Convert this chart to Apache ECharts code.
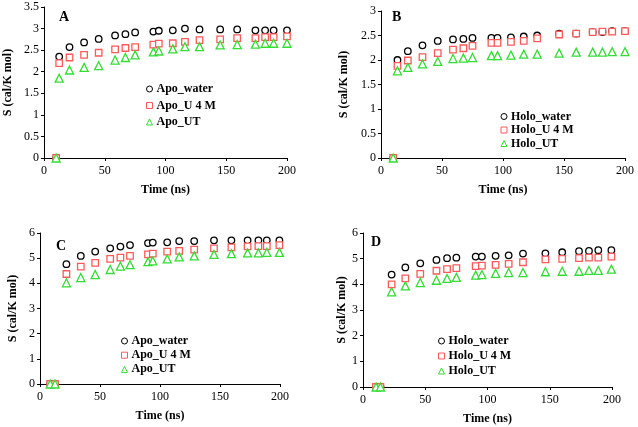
<!DOCTYPE html>
<html><head><meta charset="utf-8">
<script src="https://cdn.jsdelivr.net/npm/echarts@6/dist/echarts.min.js"></script>
<style>html,body{margin:0;padding:0;background:#fff}#c{width:638px;height:427px}</style>
</head><body><div id="c"></div>
<script>
const timesA = [10, 12.5, 21, 33, 45, 58.5, 67, 75, 90, 94.5, 106, 116, 128, 145, 159, 174, 182, 189, 200];
const timesB = [10, 13.5, 22, 34, 46.5, 59, 67.5, 75, 90.5, 95.5, 106.5, 117, 128, 146, 160, 173.5, 181.5, 189.5, 200];
const timesC = [8.5, 12.5, 22, 34, 46, 58.5, 67, 75, 90, 94, 106, 116, 128.5, 145, 159.5, 173, 182, 189, 199.5];
const timesD = [10.5, 14, 23, 34, 46, 59, 67.5, 75, 90.5, 95.5, 106.5, 117, 128.5, 146.5, 160, 173.5, 181.5, 189, 199.5];

const apoWaterA = [0, 2.35, 2.57, 2.68, 2.76, 2.84, 2.87, 2.91, 2.93, 2.95, 2.96, 3.0, 2.98, 2.98, 2.98, 2.96, 2.96, 2.96, 2.96];
const apoU4MA   = [0, 2.2, 2.33, 2.39, 2.44, 2.52, 2.55, 2.57, 2.63, 2.65, 2.66, 2.69, 2.73, 2.75, 2.78, 2.78, 2.8, 2.8, 2.82];
const apoUTA    = [0, 1.85, 2.04, 2.1, 2.14, 2.27, 2.33, 2.39, 2.46, 2.48, 2.53, 2.58, 2.58, 2.62, 2.63, 2.64, 2.66, 2.66, 2.66];

const holoWaterB = [0, 2.0, 2.18, 2.3, 2.39, 2.42, 2.43, 2.45, 2.45, 2.45, 2.46, 2.48, 2.5, 2.54, 2.54, 2.57, 2.57, 2.59, 2.59];
const holoU4MB   = [0, 1.88, 1.99, 2.06, 2.14, 2.21, 2.24, 2.29, 2.35, 2.35, 2.37, 2.39, 2.44, 2.52, 2.54, 2.57, 2.58, 2.58, 2.59];
const holoUTB    = [0, 1.78, 1.85, 1.92, 1.97, 2.03, 2.04, 2.05, 2.09, 2.09, 2.1, 2.12, 2.12, 2.14, 2.16, 2.16, 2.16, 2.17, 2.17];

const apoWaterC = [0, 0, 4.76, 5.09, 5.26, 5.39, 5.46, 5.52, 5.6, 5.62, 5.63, 5.68, 5.68, 5.71, 5.71, 5.71, 5.71, 5.71, 5.71];
const apoU4MC   = [0, 0, 4.37, 4.66, 4.81, 4.97, 5.02, 5.09, 5.15, 5.18, 5.26, 5.29, 5.34, 5.39, 5.43, 5.47, 5.48, 5.48, 5.52];
const apoUTC    = [0, 0, 4.02, 4.23, 4.35, 4.55, 4.68, 4.74, 4.86, 4.89, 4.97, 5.05, 5.09, 5.15, 5.18, 5.21, 5.21, 5.23, 5.23];

const holoWaterD = [0, 0, 4.38, 4.66, 4.82, 4.95, 5.02, 5.04, 5.08, 5.08, 5.11, 5.13, 5.2, 5.21, 5.25, 5.29, 5.3, 5.33, 5.33];
const holoU4MD   = [0, 0, 4.0, 4.23, 4.41, 4.53, 4.59, 4.63, 4.71, 4.73, 4.76, 4.8, 4.86, 4.97, 4.99, 5.02, 5.04, 5.04, 5.08];
const holoUTD    = [0, 0, 3.71, 3.94, 4.07, 4.16, 4.23, 4.27, 4.36, 4.38, 4.43, 4.46, 4.46, 4.49, 4.51, 4.51, 4.54, 4.54, 4.59];

const panelLetters = ['A', 'B', 'C', 'D'];
const namesApo = ['Apo_water', 'Apo_U 4 M', 'Apo_UT'];
const namesHolo = ['Holo_water', 'Holo_U 4 M', 'Holo_UT'];
const yMax = [3.5, 3, 6, 6];
const yStep = [0.5, 0.5, 1, 1];

const FONT = '"Liberation Serif", "Times New Roman", serif';
const colors = ['#000000', '#ff5a5a', '#33dd33'];
const symbols = ['circle', 'rect', 'triangle'];
const sizes = [6.5, 6.5, 8];

const grids = [
  {left: 44, top: 7, width: 243, height: 151},
  {left: 381, top: 11, width: 244, height: 147},
  {left: 40, top: 233, width: 240, height: 151},
  {left: 363, top: 233, width: 249, height: 154}
];
const yNameGap = [30.5, 31, 21, 15];
const legendPos = [
  {left: 146, top: 83, gap: 4.5},
  {left: 500.5, top: 110.5, gap: 1.5},
  {left: 121, top: 335, gap: 2.2},
  {left: 438, top: 335, gap: 3}
];
const letterPos = [[65, 18], [398, 18], [62, 247], [377, 243]];

const panels = [
  {t: timesA, s: [apoWaterA, apoU4MA, apoUTA], n: namesApo},
  {t: timesB, s: [holoWaterB, holoU4MB, holoUTB], n: namesHolo},
  {t: timesC, s: [apoWaterC, apoU4MC, apoUTC], n: namesApo},
  {t: timesD, s: [holoWaterD, holoU4MD, holoUTD], n: namesHolo}
];

const option = {
  backgroundColor: '#fff',
  animation: false,
  grid: grids.map(g => Object.assign({containLabel: false}, g)),
  xAxis: grids.map((g, i) => ({
    gridIndex: i, type: 'value', min: 0, max: 200, interval: 50,
    name: 'Time (ns)', nameLocation: 'middle', nameGap: 26,
    nameTextStyle: {fontFamily: FONT, fontWeight: 'bold', fontSize: 12, color: '#000'},
    axisLine: {show: true, onZero: false, lineStyle: {color: '#000', width: 1}},
    axisTick: {show: true, inside: false, length: 3, lineStyle: {color: '#000'}},
    axisLabel: {fontFamily: FONT, fontSize: 12, color: '#000', margin: 7},
    splitLine: {show: false}
  })),
  yAxis: grids.map((g, i) => ({
    gridIndex: i, type: 'value', min: 0, max: yMax[i], interval: yStep[i],
    name: 'S (cal/K mol)', nameLocation: 'middle', nameGap: yNameGap[i],
    nameTextStyle: {fontFamily: FONT, fontWeight: 'bold', fontSize: 12, color: '#000'},
    axisLine: {show: true, onZero: false, lineStyle: {color: '#000', width: 1}},
    axisTick: {show: true, inside: false, length: 3, lineStyle: {color: '#000'}},
    axisLabel: {fontFamily: FONT, fontSize: 12, color: '#000', margin: 5},
    splitLine: {show: false}
  })),
  legend: panels.map((p, i) => ({
    left: legendPos[i].left, top: legendPos[i].top, orient: 'vertical',
    itemGap: legendPos[i].gap, itemWidth: 6, itemHeight: 6,
    itemStyle: {borderWidth: 1},
    data: p.n.slice(),
    textStyle: {fontFamily: FONT, fontWeight: 'bold', fontSize: 12, color: '#000', padding: [0, 0, 0, -1]},
    padding: 0
  })),
  graphic: letterPos.map((pos, i) => ({
    type: 'text', left: pos[0] - 6, top: pos[1] - 8,
    style: {text: panelLetters[i], font: 'bold 14px ' + FONT, fill: '#000'}
  })),
  series: []
};

panels.forEach((p, i) => {
  p.s.forEach((vals, k) => {
    option.series.push({
      type: 'scatter', name: p.n[k], xAxisIndex: i, yAxisIndex: i,
      symbol: symbols[k], symbolSize: sizes[k],
      itemStyle: {color: '#fff', opacity: 1, borderColor: colors[k], borderWidth: 1.3},
      data: p.t.map((t, j) => [t, vals[j]])
    });
  });
});
const chart = echarts.init(document.getElementById('c'), null, {renderer: 'canvas'});
chart.setOption(option);
</script></body></html>
